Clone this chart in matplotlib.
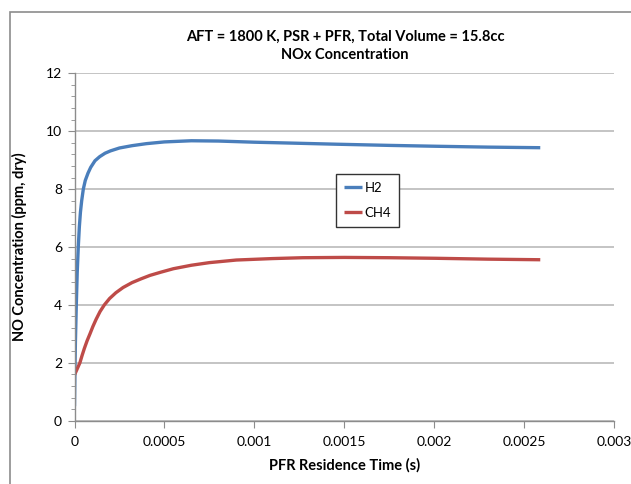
import matplotlib
matplotlib.use("Agg")
import matplotlib.pyplot as plt
from matplotlib.ticker import MultipleLocator
from matplotlib.patches import Rectangle

plt.rcParams['font.family'] = ['Lato', 'DejaVu Sans']

title_lines = ["AFT = 1800 K, PSR + PFR, Total Volume = 15.8cc", "NOx Concentration"]
x_label = "PFR Residence Time (s)"
y_label = "NO Concentration (ppm, dry)"
series_names = ["H2", "CH4"]

h2_t = [0, 2e-6, 5e-6, 1e-5, 1.5e-5, 2.1e-5, 2.7e-5, 3.3e-5, 4e-5, 4.9e-5, 6e-5, 7.5e-5,
        9e-5, 1.14e-4, 1.4e-4, 1.7e-4, 2.0e-4, 2.5e-4, 3.2e-4, 4.0e-4, 5.0e-4, 6.5e-4,
        8e-4, 1.0e-3, 1.2e-3, 1.46e-3, 1.75e-3, 2.01e-3, 2.3e-3, 2.59e-3]
h2_no = [0.5, 1.5, 2.7, 4.0, 5.1, 6.0, 6.7, 7.2, 7.6, 8.0, 8.3, 8.55,
         8.75, 8.98, 9.12, 9.24, 9.32, 9.42, 9.5, 9.57, 9.63, 9.67,
         9.66, 9.62, 9.59, 9.55, 9.51, 9.48, 9.45, 9.43]

ch4_t = [0, 1e-5, 2e-5, 3e-5, 4.2e-5, 5.5e-5, 7e-5, 8.6e-5, 1.02e-4, 1.2e-4, 1.42e-4,
         1.66e-4, 1.95e-4, 2.3e-4, 2.7e-4, 3.2e-4, 3.7e-4, 4.2e-4, 4.8e-4, 5.5e-4, 6.5e-4,
         7.5e-4, 9e-4, 1.1e-3, 1.27e-3, 1.5e-3, 1.75e-3, 2.01e-3, 2.3e-3, 2.59e-3]
ch4_no = [1.58, 1.72, 1.86, 2.0, 2.25, 2.5, 2.76, 3.0, 3.25, 3.5, 3.77,
          4.0, 4.22, 4.42, 4.6, 4.77, 4.9, 5.02, 5.13, 5.25, 5.37,
          5.46, 5.55, 5.6, 5.63, 5.64, 5.63, 5.61, 5.58, 5.56]

x_ticks = [0, 0.0005, 0.001, 0.0015, 0.002, 0.0025, 0.003]
x_ticklabels = ["0", "0.0005", "0.001", "0.0015", "0.002", "0.0025", "0.003"]
y_ticks = [0, 2, 4, 6, 8, 10, 12]

W, H = 631, 484
fig = plt.figure(figsize=(W / 100, H / 100), dpi=100)
L, R, T, B = 74.5, 614, 73.3, 420.7
ax = fig.add_axes([L / W, 1 - B / H, (R - L) / W, (B - T) / H])

# outer chart border
fig.patches.append(Rectangle((10 / W, -0.1), 1.2, (H - 12) / H + 0.1, transform=fig.transFigure,
                             fill=False, edgecolor='#8c8c8c', linewidth=1.2))

ax.plot(h2_t, h2_no, color='#4A7EBB', lw=2.4, label=series_names[0],
        solid_capstyle='butt', solid_joinstyle='round')
ax.plot(ch4_t, ch4_no, color='#BE4B48', lw=2.4, label=series_names[1],
        solid_capstyle='butt', solid_joinstyle='round')

ax.set_xlim(0, 0.003)
ax.set_ylim(0, 12)
ax.set_xticks(x_ticks)
ax.set_xticklabels(x_ticklabels)
ax.set_yticks(y_ticks)
ax.yaxis.set_minor_locator(MultipleLocator(0.4))
ax.yaxis.grid(True, which='major', color='#b4b4b4', lw=1.1)
ax.set_axisbelow(True)
for s in ['top', 'right']:
    ax.spines[s].set_visible(False)
for s in ['left', 'bottom']:
    ax.spines[s].set_color('#8c8c8c')
    ax.spines[s].set_linewidth(1.0)
ax.tick_params(axis='both', which='major', direction='out', length=5, color='#8c8c8c',
               labelsize=10, pad=4)
ax.tick_params(axis='y', which='minor', direction='out', length=3, color='#8c8c8c')
ax.tick_params(axis='x', pad=6)

fig.text(345 / W, 1 - 37 / H, title_lines[0], ha='center', va='center', fontsize=10.5, fontweight='bold')
fig.text(345 / W, 1 - 55 / H, title_lines[1], ha='center', va='center', fontsize=10.5, fontweight='bold')
fig.text(345 / W, 1 - 465 / H, x_label, ha='center', va='center', fontsize=10.5, fontweight='bold')
fig.text(19 / W, 1 - 247 / H, y_label, ha='center', va='center', rotation=90, fontsize=10.5, fontweight='bold')

leg = ax.legend(loc='upper left', bbox_to_anchor=(336 / W, 1 - 174 / H), bbox_transform=fig.transFigure,
                fancybox=False, edgecolor='#333333', framealpha=1, fontsize=9.5,
                handlelength=1.4, handletextpad=0.15, labelspacing=1.0, borderpad=0.6,
                borderaxespad=0)
leg.get_frame().set_linewidth(1.0)

fig.savefig("out.png", dpi=100)
